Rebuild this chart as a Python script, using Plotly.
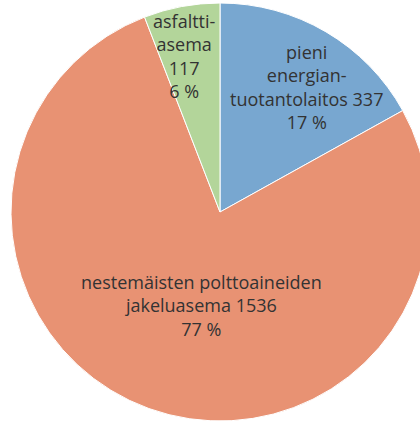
import plotly.graph_objects as go

categories = ["pieni<br>energian-<br>tuotantolaitos", "nestemäisten polttoaineiden<br>jakeluasema", "asfaltti-<br>asema"]
values = [337, 1536, 117]
colors = ["#78A7D0", "#E89273", "#B3D59A"]

W, H = 440, 421
total = sum(values)
pcts = [round(v / total * 100) for v in values]

fig = go.Figure(go.Pie(
    labels=categories, values=values, sort=False, direction="clockwise", rotation=0,
    marker=dict(colors=colors, line=dict(color="white", width=1)),
    textinfo="none", hoverinfo="label+value+percent",
    domain=dict(x=[11 / W, 429 / W], y=[0, 418 / H]),
    showlegend=False,
))

texts = [
    f"{categories[0]} {values[0]}<br>{pcts[0]} %",
    f"{categories[1]} {values[1]}<br>{pcts[1]} %",
    f"{categories[2]}<br>{values[2]}<br>{pcts[2]} %",
]
pos = [(306, 87), (201, 305), (184, 56)]
anns = []
for t, (px, py) in zip(texts, pos):
    anns.append(dict(text=t, x=px / W, y=1 - py / H, xref="paper", yref="paper",
                     showarrow=False, xanchor="center", yanchor="middle", align="center",
                     font=dict(family="Open Sans", size=18, color="#333333")))

fig.update_layout(width=W, height=H, margin=dict(l=0, r=0, t=0, b=0),
                  paper_bgcolor="white", plot_bgcolor="white", annotations=anns)

fig.write_html("out.html", config={"displayModeBar": False},
               post_script="document.body.style.margin='0';document.body.style.overflow='hidden';")
